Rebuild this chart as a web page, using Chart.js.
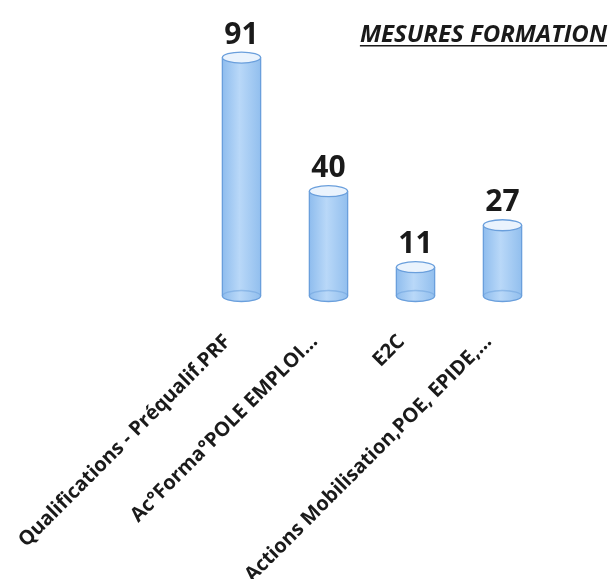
<!DOCTYPE html>
<html>
<head>
<meta charset="utf-8">
<script src="https://cdn.jsdelivr.net/npm/chart.js@4"></script>
<style>
  html, body { margin: 0; padding: 0; background: #fff; }
  #wrap { width: 611px; height: 579px; }
</style>
</head>
<body>
<div id="wrap"><canvas id="mesures"></canvas></div>
<script>
const categories = ['Qualifications - Préqualif.PRF', 'Ac°Forma°POLE EMPLOI...', 'E2C', 'Actions Mobilisation,POE, EPIDE,...'];
const values = [91, 40, 11, 27];
const chartTitle = 'MESURES FORMATION';

// cylinders drawn over the (invisible) bar elements
const cylinders = {
  id: 'cylinders',
  afterDatasetsDraw(chart) {
    const ctx = chart.ctx;
    chart.getDatasetMeta(0).data.forEach((bar, i) => {
      const w = bar.width, x0 = bar.x - w / 2, top = bar.y, base = bar.base;
      const ry = 5.5, rx = w / 2;
      ctx.save();
      const g = ctx.createLinearGradient(x0, 0, x0 + w, 0);
      g.addColorStop(0, '#8fbdee');
      g.addColorStop(0.45, '#b9d8f8');
      g.addColorStop(1, '#92bfee');
      ctx.fillStyle = g;
      ctx.beginPath();
      ctx.moveTo(x0, top);
      ctx.lineTo(x0, base);
      ctx.ellipse(bar.x, base, rx, ry, 0, Math.PI, 0, true);
      ctx.lineTo(x0 + w, top);
      ctx.closePath();
      ctx.fill();
      ctx.strokeStyle = '#6a9fdc';
      ctx.lineWidth = 1.3;
      ctx.beginPath();
      ctx.moveTo(x0, top); ctx.lineTo(x0, base);
      ctx.moveTo(x0 + w, top); ctx.lineTo(x0 + w, base);
      ctx.stroke();
      ctx.beginPath();
      ctx.ellipse(bar.x, base, rx, ry, 0, 0, Math.PI);
      ctx.stroke();
      ctx.strokeStyle = 'rgba(106,159,220,0.5)';
      ctx.beginPath();
      ctx.ellipse(bar.x, base, rx, ry, 0, Math.PI, 0);
      ctx.stroke();
      ctx.fillStyle = '#eaf3fd';
      ctx.strokeStyle = '#6a9fdc';
      ctx.beginPath();
      ctx.ellipse(bar.x, top, rx, ry, 0, 0, Math.PI * 2);
      ctx.fill();
      ctx.stroke();
      // value
      ctx.fillStyle = '#1a1a1a';
      ctx.font = 'bold 30px "Open Sans"';
      ctx.textAlign = 'center';
      ctx.textBaseline = 'alphabetic';
      ctx.fillText(String(values[i]), bar.x, top - 14);
      ctx.restore();
    });
    // title
    ctx.save();
    ctx.font = 'italic bold 24px "Open Sans"';
    ctx.fillStyle = '#1a1a1a';
    ctx.textAlign = 'right';
    ctx.textBaseline = 'alphabetic';
    ctx.fillText(chartTitle, 607, 42);
    const tw = ctx.measureText(chartTitle).width;
    ctx.fillRect(607 - tw, 45, tw, 1.5);
    ctx.restore();
  }
};

new Chart(document.getElementById('mesures'), {
  type: 'bar',
  data: {
    labels: categories,
    datasets: [{
      data: values,
      backgroundColor: 'rgba(0,0,0,0)',
      borderWidth: 0,
      categoryPercentage: 1,
      barPercentage: 0.44
    }]
  },
  options: {
    responsive: true,
    maintainAspectRatio: false,
    animation: false,
    layout: { padding: { left: 198, right: 65, top: 34 } },
    plugins: { legend: { display: false }, tooltip: { enabled: false } },
    scales: {
      y: { display: false, min: 0, max: 100 },
      x: {
        grid: { display: false },
        border: { display: false },
        ticks: {
          minRotation: 45, maxRotation: 45,
          autoSkip: false,
          color: '#1a1a1a',
          padding: 26,
          labelOffset: -14,
          font: { family: 'Open Sans', size: 20, weight: 'bold' }
        },
        afterFit(scale) {
          scale.height = 283;
          scale.paddingLeft = 0;
          scale.paddingRight = 0;
        }
      }
    }
  },
  plugins: [cylinders]
});
</script>
</body>
</html>
